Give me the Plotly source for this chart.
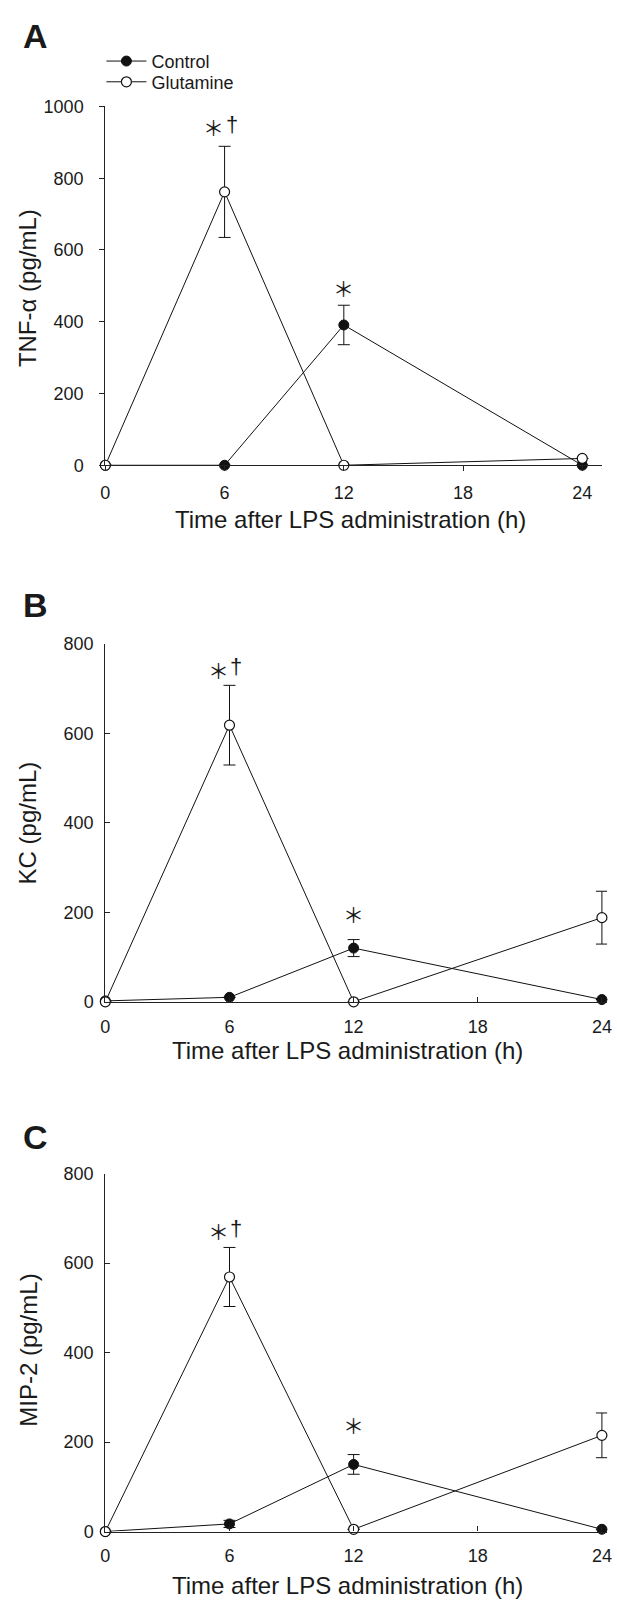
import plotly.graph_objects as go

# ---------------- data ----------------
hours = [0, 6, 12, 24]
x_ticks = [0, 6, 12, 18, 24]

tnf_control = [0, 0, 391, 0]
tnf_control_err = [None, None, 55, None]
tnf_glut = [0, 762, 0, 19]
tnf_glut_err = [None, 127, None, None]

kc_control = [2, 10, 120, 5]
kc_control_err = [None, None, 19, None]
kc_glut = [0, 618, 0, 188]
kc_glut_err = [None, 89, None, 59]

mip_control = [0, 17, 150, 5]
mip_control_err = [None, 8, 22, None]
mip_glut = [0, 569, 5, 215]
mip_glut_err = [None, 66, None, 50]

panel_labels = ["A", "B", "C"]
y_titles = ["TNF-\u03b1 (pg/mL)", "KC (pg/mL)", "MIP-2 (pg/mL)"]
x_title = "Time after LPS administration (h)"
y_ranges = [[0, 1000], [0, 800], [0, 800]]
y_tickvals = [[0, 200, 400, 600, 800, 1000], [0, 200, 400, 600, 800], [0, 200, 400, 600, 800]]
star_dagger_y = [942, 742, 671]
star_12_y = [493, 197, 237]

# ---------------- layout helpers ----------------
W, H = 617, 1607
FONT = "Liberation Sans, Arial, Helvetica, sans-serif"
STAR_FONT = "Noto Sans CJK JP"


def fx(p):
    return p / W


def fy(p):
    return 1 - p / H


# plot-area boxes in page pixels (left, right, top, bottom)
boxes = [
    (102, 607, 97.7, 461.0),
    (102, 612, 641.7, 1004.3),
    (102, 612, 1178.3, 1540.7),
]
x_ranges = [[0, 25], [0, 24.25], [0, 24.25]]
tick_dirs = ["outside", "inside", "inside"]
label_pos = [26.5, 603, 1141.5]
ytitle_pos = [282, 823, 1357]
xtitle_x = [351, 348, 348]
xtitle_y = [516, 1054, 1595]

fig = go.Figure()

data = [
    (tnf_control, tnf_control_err, tnf_glut, tnf_glut_err),
    (kc_control, kc_control_err, kc_glut, kc_glut_err),
    (mip_control, mip_control_err, mip_glut, mip_glut_err),
]

for i, (c, ce, g, ge) in enumerate(data):
    xa = "x" if i == 0 else f"x{i+1}"
    ya = "y" if i == 0 else f"y{i+1}"
    fig.add_trace(go.Scatter(
        x=hours, y=c, mode="lines+markers", name="Control",
        xaxis=xa, yaxis=ya, legend="legend", showlegend=(i == 0),
        line=dict(color="#111111", width=1),
        marker=dict(symbol="circle", size=10, color="#111111",
                    line=dict(color="#111111", width=1)),
        error_y=dict(type="data", array=ce, visible=True, color="#111111",
                     thickness=1, width=6),
        cliponaxis=False,
    ))
    fig.add_trace(go.Scatter(
        x=hours, y=g, mode="lines+markers", name="Glutamine",
        xaxis=xa, yaxis=ya, legend="legend2", showlegend=(i == 0),
        line=dict(color="#111111", width=1),
        marker=dict(symbol="circle", size=10, color="white",
                    line=dict(color="#111111", width=1.2)),
        error_y=dict(type="data", array=ge, visible=True, color="#111111",
                     thickness=1, width=6),
        cliponaxis=False,
    ))

legend_style = dict(xanchor="left", yanchor="middle", bgcolor="rgba(0,0,0,0)",
                    font=dict(size=18, family=FONT, color="#1a1a1a"), itemwidth=40)

layout = dict(
    width=W, height=H,
    margin=dict(l=0, r=0, t=0, b=0),
    paper_bgcolor="white", plot_bgcolor="white",
    font=dict(family=FONT, size=18, color="#1a1a1a"),
    showlegend=True,
    legend=dict(x=fx(98), y=fy(52), **legend_style),
    legend2=dict(x=fx(98), y=fy(73), **legend_style),
)

annotations = []
for i in range(3):
    l, r, t, b = boxes[i]
    xk = "xaxis" if i == 0 else f"xaxis{i+1}"
    yk = "yaxis" if i == 0 else f"yaxis{i+1}"
    ya = "y" if i == 0 else f"y{i+1}"
    xa = "x" if i == 0 else f"x{i+1}"
    layout[xk] = dict(
        domain=[fx(l), fx(r)], range=x_ranges[i], anchor=ya,
        tickvals=x_ticks, ticktext=[str(v) for v in x_ticks],
        ticks=tick_dirs[i], ticklen=5, tickwidth=1, tickcolor="#222222",
        showline=True, linecolor="#222222", linewidth=1.2,
        showgrid=False, zeroline=False, ticklabeloverflow="allow",
        ticklabelstandoff=6 if i == 0 else 8,
        tickfont=dict(size=18, family=FONT, color="#1a1a1a"),
        fixedrange=True,
    )
    layout[yk] = dict(
        domain=[fy(b), fy(t)], range=y_ranges[i], anchor=xa,
        tickvals=y_tickvals[i],
        ticks=tick_dirs[i], ticklen=5, tickwidth=1, tickcolor="#222222",
        showline=True, linecolor="#222222", linewidth=1.2,
        showgrid=False, zeroline=False, ticklabeloverflow="allow",
        tickfont=dict(size=18, family=FONT, color="#1a1a1a"),
        ticklabelstandoff=12 if i == 0 else 7,
        fixedrange=True,
    )
    # panel label
    annotations.append(dict(
        text=f"<b>{panel_labels[i]}</b>", xref="paper", yref="paper",
        x=fx(31), y=fy(label_pos[i]), xanchor="center", yanchor="middle",
        showarrow=False, font=dict(size=34, family=FONT, color="#1a1a1a"),
    ))
    # y title
    annotations.append(dict(
        text=y_titles[i], xref="paper", yref="paper",
        x=fx(23), y=fy(ytitle_pos[i]), xanchor="center", yanchor="middle",
        textangle=-90, showarrow=False,
        font=dict(size=24, family=FONT, color="#1a1a1a"),
    ))
    # x title
    annotations.append(dict(
        text=x_title, xref="paper", yref="paper",
        x=fx(xtitle_x[i]), y=fy(xtitle_y[i]), xanchor="center", yanchor="middle",
        showarrow=False, font=dict(size=24, family=FONT, color="#1a1a1a"),
    ))
    # significance marks
    annotations.append(dict(
        text="\uff0a", xref=xa, yref=ya, x=6, y=star_dagger_y[i],
        xshift=-11, xanchor="center", yanchor="middle", showarrow=False,
        font=dict(size=21, family=STAR_FONT, color="#1a1a1a"),
    ))
    annotations.append(dict(
        text="\u2020", xref=xa, yref=ya, x=6, y=star_dagger_y[i],
        xshift=7, yshift=3, xanchor="center", yanchor="middle", showarrow=False,
        font=dict(size=22, family=FONT, color="#1a1a1a"),
    ))
    annotations.append(dict(
        text="\uff0a", xref=xa, yref=ya, x=12, y=star_12_y[i],
        xanchor="center", yanchor="middle", showarrow=False,
        font=dict(size=21, family=STAR_FONT, color="#1a1a1a"),
    ))

layout["annotations"] = annotations
fig.update_layout(**layout)
fig.write_html("out.html", config={"displayModeBar": False},
               post_script="document.body.style.margin='0px';")
